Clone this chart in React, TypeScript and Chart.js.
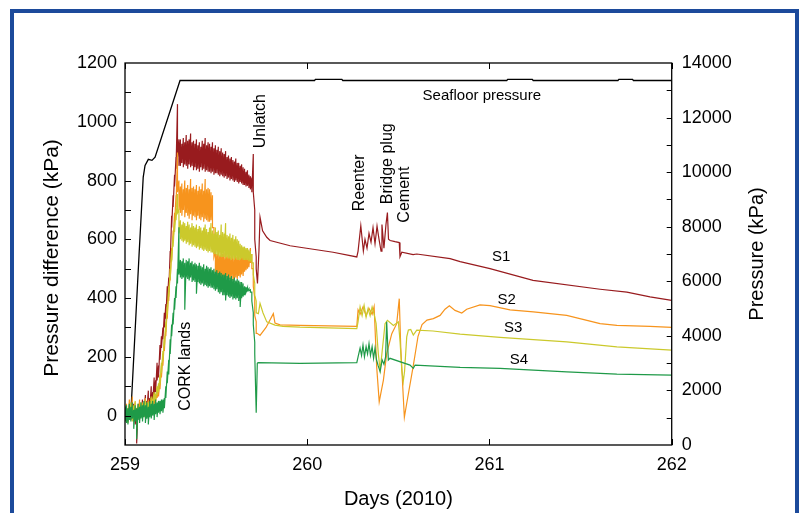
import React, { useEffect, useRef } from 'react';
import { Chart, registerables } from 'chart.js';

Chart.register(...registerables);

const FONT = '"Liberation Sans", Arial, Helvetica, sans-serif';

// X tick labels (days, 2010)
const dayTicks = [259, 260, 261, 262];

// Shared time grid for the landing period (days)
const earlyDays = [
  259.000, 259.008, 259.016, 259.024, 259.032, 259.040, 259.048, 259.056, 259.064, 259.072,
  259.080, 259.088, 259.096, 259.104, 259.112, 259.120, 259.128, 259.136, 259.144, 259.152,
  259.160, 259.168, 259.176, 259.184, 259.192, 259.200, 259.208, 259.216, 259.224, 259.232,
  259.240, 259.248, 259.256, 259.264, 259.272, 259.280, 259.288, 259.296, 259.304, 259.312,
  259.320, 259.328, 259.336, 259.344, 259.352, 259.360, 259.368, 259.376, 259.384, 259.392,
  259.400, 259.408, 259.416, 259.424, 259.432, 259.440, 259.448, 259.456, 259.464, 259.472,
  259.480, 259.488, 259.496, 259.504, 259.512, 259.520, 259.528, 259.536, 259.544, 259.552,
  259.560, 259.568, 259.576, 259.584, 259.592, 259.600, 259.608, 259.616, 259.624, 259.632,
  259.640, 259.648, 259.656, 259.664, 259.672, 259.680, 259.688, 259.696, 259.704, 259.712,
  259.720,
];

// S1 noisy period: upper and lower extremes of the noise at each grid time (kPa)
const s1High = [
  25, 30, 20, 35, 30, 25, 40, 20, 15, 30,
  40, 30, 55, 40, 70, 50, 85, 60, 100, 80,
  130, 120, 180, 170, 240, 270, 300, 350, 380, 440,
  470, 560, 680, 750, 820, 880, 1060, 940, 940, 925,
  945, 930, 955, 935, 940, 960, 930, 935, 925, 940,
  920, 930, 915, 935, 925, 945, 920, 930, 925, 915,
  930, 910, 920, 905, 915, 900, 910, 895, 890, 900,
  880, 885, 875, 880, 870, 865, 875, 860, 860, 850,
  855, 845, 840, 830, 835, 820, 815, 810, 890, 700,
  540,
];
const s1Low = [
  -15, -10, -20, -5, -15, -10, -5, -30, -95, -10,
  0, 5, 10, 10, 20, 15, 30, 25, 45, 40,
  70, 80, 120, 130, 190, 230, 260, 300, 330, 380,
  420, 520, 640, 710, 780, 840, 880, 850, 850, 860,
  845, 855, 850, 840, 855, 845, 850, 835, 845, 835,
  840, 830, 845, 835, 840, 830, 835, 830, 830, 825,
  830, 820, 825, 825, 820, 815, 820, 815, 810, 815,
  805, 810, 800, 805, 800, 795, 800, 795, 790, 795,
  790, 785, 785, 780, 782, 775, 770, 760, 760, 600,
  500,
];
const s1LateDays = [
  259.727, 259.735, 259.741, 259.755, 259.778, 259.796, 259.906, 259.960, 260.142, 260.272,
  260.279, 260.294, 260.308, 260.317, 260.328, 260.339, 260.350, 260.361, 260.372, 260.383,
  260.394, 260.405, 260.410, 260.421, 260.432, 260.440, 260.446, 260.455, 260.482, 260.505,
  260.509, 260.519, 260.581, 260.601, 260.784, 260.839, 261.003, 261.239, 261.607, 261.754,
  261.881, 262.000,
];
const s1Late = [
  450, 560, 675, 629, 607, 596, 578, 573, 556, 540,
  560, 646, 560, 600, 570, 620, 590, 640, 585, 645,
  600, 560, 650, 570, 650, 691, 600, 596, 592, 589,
  541, 556, 548, 550, 534, 524, 500, 460, 430, 420,
  404, 392,
];

// S2
const s2High = [
  30, 40, 25, 55, 35, 65, 30, 45, 25, 40,
  55, 35, 45, 40, 60, 45, 55, 40, 60, 55,
  75, 70, 95, 90, 130, 170, 210, 260, 310, 370,
  430, 500, 570, 630, 690, 750, 895, 800, 780, 790,
  770, 800, 775, 785, 770, 805, 775, 780, 770, 785,
  765, 780, 770, 790, 765, 805, 770, 775, 770, 760,
  750, 640, 560, 550, 565, 545, 560, 550, 555, 540,
  550, 545, 555, 540, 545, 535, 550, 540, 545, 535,
  550, 545, 555, 550, 560, 555, 570, 550, 500, 400,
  320,
];
const s2Low = [
  -10, -5, -15, 5, -10, 0, -20, 0, -30, -10,
  5, -5, 0, -5, 10, 0, 10, 5, 25, 25,
  40, 45, 60, 65, 90, 130, 170, 220, 270, 330,
  390, 460, 530, 590, 650, 710, 760, 700, 690, 680,
  700, 675, 690, 680, 670, 685, 665, 680, 675, 665,
  680, 670, 665, 675, 660, 670, 665, 660, 660, 665,
  640, 540, 480, 470, 475, 465, 470, 460, 470, 465,
  470, 460, 465, 470, 460, 465, 470, 465, 475, 470,
  480, 475, 490, 495, 500, 505, 520, 500, 440, 340,
  280,
];
const s2LateDays = [
  259.725, 259.741, 259.774, 259.814, 259.823, 259.851, 259.960, 260.272, 260.279, 260.290,
  260.306, 260.323, 260.339, 260.356, 260.367, 260.381, 260.395, 260.402, 260.418, 260.436,
  260.464, 260.491, 260.505, 260.513, 260.527, 260.533, 260.546, 260.582, 260.608, 260.630,
  260.657, 260.692, 260.729, 260.756, 260.780, 260.811, 260.848, 260.875, 260.948, 261.003,
  261.113, 261.241, 261.424, 261.607, 261.699, 261.881, 262.000,
];
const s2Late = [
  280, 273, 300, 347, 315, 309, 307, 304, 360, 345,
  370, 340, 365, 345, 371, 166, 47, 70, 121, 211,
  279, 313, 398, 234, 64, -6, 42, 170, 270, 310,
  325, 330, 341, 362, 374, 358, 349, 362, 377, 374,
  360, 353, 341, 313, 307, 304, 300,
];

// S3
const s3High = [
  25, 35, 20, 40, 45, 25, 35, 50, 20, 35,
  30, 45, 30, 40, 55, 35, 45, 40, 65, 55,
  80, 75, 100, 110, 140, 180, 220, 270, 320, 380,
  440, 500, 560, 610, 660, 700, 754, 700, 665, 650,
  660, 655, 645, 660, 650, 640, 655, 645, 640, 650,
  635, 645, 640, 630, 640, 650, 635, 625, 640, 655,
  630, 620, 640, 625, 630, 615, 650, 625, 620, 655,
  615, 610, 620, 605, 615, 600, 610, 600, 595, 585,
  580, 575, 575, 570, 570, 565, 560, 550, 520, 450,
  390,
];
const s3Low = [
  -20, -10, -25, -5, 0, -20, -10, 5, -45, -5,
  -10, 10, -5, 0, 15, 0, 10, 5, 35, 30,
  50, 50, 70, 80, 105, 145, 185, 235, 285, 345,
  405, 465, 525, 575, 625, 665, 690, 620, 600, 595,
  590, 595, 585, 590, 580, 585, 575, 580, 575, 570,
  575, 565, 570, 565, 560, 565, 560, 555, 560, 555,
  555, 550, 550, 545, 545, 540, 540, 540, 540, 535,
  540, 535, 535, 530, 535, 530, 535, 530, 530, 530,
  535, 530, 530, 530, 530, 525, 525, 520, 480, 410,
  350,
];
const s3LateDays = [
  259.732, 259.741, 259.757, 259.778, 259.823, 259.867, 259.960, 260.272, 260.279, 260.290,
  260.301, 260.312, 260.323, 260.334, 260.345, 260.356, 260.367, 260.378, 260.390, 260.400,
  260.408, 260.427, 260.440, 260.473, 260.500, 260.509, 260.519, 260.527, 260.534, 260.546,
  260.555, 260.568, 260.582, 260.601, 260.690, 260.839, 261.058, 261.424, 261.699, 262.000,
];
const s3Late = [
  347, 382, 350, 319, 308, 304, 301, 296, 320, 370,
  340, 375, 335, 365, 340, 370, 345, 313, 211, 155,
  200, 313, 324, 307, 319, 256, 155, 116, 150, 268,
  291, 293, 274, 291, 288, 277, 266, 251, 234, 223,
];

// S4
const s4High = [
  30, 35, 25, 40, 30, 45, 20, 35, 25, 40,
  30, 45, 35, 50, 35, 45, 30, 50, 40, 50,
  40, 55, 45, 50, 50, 55, 55, 60, 100, 150,
  190, 260, 310, 350, 400, 440, 500, 641, 530, 525,
  535, 520, 530, 525, 535, 520, 525, 515, 520, 515,
  510, 520, 510, 505, 515, 500, 510, 505, 500, 505,
  495, 500, 490, 495, 485, 490, 485, 480, 480, 485,
  475, 480, 470, 475, 465, 470, 460, 465, 460, 455,
  455, 450, 440, 438, 435, 432, 428, 420, 350, 250,
  10,
];
const s4Low = [
  -20, -25, -30, -15, -20, -10, -45, -20, -80, -15,
  -25, -10, -20, -5, -25, -10, -30, -5, -10, 0,
  -15, 5, -5, 10, 5, 15, 10, 25, 60, 110,
  140, 210, 270, 310, 360, 400, 450, 480, 470, 465,
  470, 360, 470, 465, 460, 470, 455, 460, 455, 415,
  455, 450, 445, 450, 440, 445, 440, 435, 440, 435,
  435, 430, 425, 430, 420, 415, 420, 410, 410, 392,
  410, 405, 400, 405, 395, 400, 395, 400, 390, 370,
  400, 405, 410, 420, 425, 425, 420, 390, 310, 210,
  10,
];
const s4LateDays = [
  259.726, 259.730, 259.960, 260.272, 260.279, 260.290, 260.298, 260.306, 260.314, 260.323,
  260.331, 260.339, 260.347, 260.356, 260.364, 260.372, 260.380, 260.389, 260.400, 260.411,
  260.421, 260.430, 260.436, 260.445, 260.454, 260.564, 260.582, 260.592, 260.839, 261.058,
  261.424, 261.699, 262.000,
];
const s4Late = [
  178, 180, 178, 180, 200, 230, 205, 240, 200, 235,
  210, 245, 205, 235, 195, 230, 190, 170, 150, 190,
  175, 200, 319, 189, 195, 172, 161, 172, 164, 161,
  149, 141, 138,
];

// Seafloor pressure (right axis, kPa)
const seafloorDays = [
  259.000, 259.030, 259.033, 259.077, 259.100, 259.110, 259.128, 259.148, 259.165, 259.302,
  260.040, 260.045, 260.190, 260.195, 261.095, 261.100, 261.235, 261.240, 261.705, 261.710,
  261.785, 261.790, 262.000,
];
const seafloorVals = [
  1036, 1036, 1281, 6954, 9820, 10248, 10468, 10431, 10552, 13359,
  13359, 13400, 13400, 13359, 13359, 13400, 13400, 13359, 13359, 13400,
  13400, 13359, 13359,
];

// Event / series labels
const eventLabels = ['CORK lands', 'Unlatch', 'Reenter', 'Bridge plug', 'Cement'];
const eventDays = [259.335, 259.746, 260.290, 260.441, 260.537];
const eventVals = [168, 1002, 792, 857, 752];

const seriesLabels = ['S1', 'S2', 'S3', 'S4'];
const seriesLabelDays = [261.064, 261.095, 261.130, 261.162];
const seriesLabelVals = [541, 395, 300, 191];

const seafloorLabel = 'Seafloor pressure';
const seafloorLabelDay = 260.958;
const seafloorLabelVal = 1087;

const xTitle = 'Days (2010)';
const yTitle = 'Pressure difference (kPa)';
const y2Title = 'Pressure (kPa)';

const COLORS = {
  s1: '#981b1e',
  s2: '#f7941d',
  s3: '#cbc92c',
  s4: '#1f9a48',
  sea: '#000000',
  frame: '#1c4a9b',
};

const pts = (d: number[], v: number[]) => d.map((x, i) => ({ x, y: v[i] }));
// noise envelope: at each time, a stroke from the upper to the lower extreme
const band = (d: number[], hi: number[], lo: number[]) =>
  d.flatMap((x, i) => [{ x, y: hi[i] }, { x, y: lo[i] }]);

const decorPlugin = {
  id: 'decor',
  beforeDraw(chart: any) {
    const ctx = chart.ctx;
    ctx.save();
    ctx.fillStyle = '#ffffff';
    ctx.fillRect(0, 0, chart.width, chart.height);
    ctx.strokeStyle = COLORS.frame;
    ctx.lineWidth = 4;
    ctx.strokeRect(12, 11, 785, 600);
    ctx.restore();
  },
  afterDatasetsDraw(chart: any) {
    const ctx = chart.ctx;
    const { left, right, top, bottom } = chart.chartArea;
    const xs = chart.scales.x;
    const ys = chart.scales.y;
    const y2 = chart.scales.y2;
    ctx.save();
    ctx.strokeStyle = '#000';
    ctx.lineWidth = 1.3;
    ctx.strokeRect(left, top, right - left, bottom - top);
    ctx.lineWidth = 1;
    ctx.beginPath();
    dayTicks.forEach((d) => {
      const px = Math.round(xs.getPixelForValue(d)) + 0.5;
      ctx.moveTo(px, bottom);
      ctx.lineTo(px, bottom - 6);
      ctx.moveTo(px, top);
      ctx.lineTo(px, top + 6);
    });
    for (let v = 0; v < 1200; v += 100) {
      const py = Math.round(ys.getPixelForValue(v)) + 0.5;
      ctx.moveTo(left, py);
      ctx.lineTo(left + 6, py);
    }
    for (let v = 1000; v < 14000; v += 1000) {
      const py = Math.round(y2.getPixelForValue(v)) + 0.5;
      ctx.moveTo(right, py);
      ctx.lineTo(right - 5, py);
    }
    ctx.stroke();

    ctx.fillStyle = '#000';
    ctx.textAlign = 'center';
    ctx.textBaseline = 'middle';
    const rot = (t: string, x: number, y: number) => {
      ctx.save();
      ctx.translate(x, y);
      ctx.rotate(-Math.PI / 2);
      ctx.fillText(t, 0, 0);
      ctx.restore();
    };
    ctx.font = `16px ${FONT}`;
    eventLabels.forEach((t, i) => {
      rot(t, xs.getPixelForValue(eventDays[i]), ys.getPixelForValue(eventVals[i]));
    });
    ctx.font = `15px ${FONT}`;
    seriesLabels.forEach((t, i) => {
      ctx.fillText(t, xs.getPixelForValue(seriesLabelDays[i]), ys.getPixelForValue(seriesLabelVals[i]));
    });
    ctx.fillText(seafloorLabel, xs.getPixelForValue(seafloorLabelDay), ys.getPixelForValue(seafloorLabelVal));

    // axis titles
    const midY = (top + bottom) / 2;
    ctx.font = `21px ${FONT}`;
    rot(yTitle, 52, midY + 4);
    ctx.font = `20px ${FONT}`;
    rot(y2Title, 757, midY);
    ctx.fillText(xTitle, (left + right) / 2, 499);
    ctx.restore();
  },
};

export default function App() {
  const ref = useRef<HTMLCanvasElement>(null);
  useEffect(() => {
    const canvas = ref.current;
    if (!canvas) return;
    const tickFont = { family: FONT, size: 18 };
    const line = (label: string, data: any[], color: string, axis: string, order: number, width = 1.2) => ({
      label,
      data,
      borderColor: color,
      backgroundColor: color,
      borderWidth: width,
      yAxisID: axis,
      order,
      pointRadius: 0,
      fill: false,
      tension: 0,
    });
    const chart = new Chart(canvas, {
      type: 'line',
      data: {
        datasets: [
          line('S4', [...band(earlyDays, s4High, s4Low), ...pts(s4LateDays, s4Late)], COLORS.s4, 'y', 0),
          line('S3', [...band(earlyDays, s3High, s3Low), ...pts(s3LateDays, s3Late)], COLORS.s3, 'y', 1),
          line('S2', [...band(earlyDays, s2High, s2Low), ...pts(s2LateDays, s2Late)], COLORS.s2, 'y', 2),
          line('S1', [...band(earlyDays, s1High, s1Low), ...pts(s1LateDays, s1Late)], COLORS.s1, 'y', 3),
          line('Seafloor pressure', pts(seafloorDays, seafloorVals), COLORS.sea, 'y2', 4, 1.3),
        ],
      },
      options: {
        responsive: false,
        animation: false,
        devicePixelRatio: 1,
        layout: { padding: { top: 63, left: 0, right: 0, bottom: 0 } },
        plugins: { legend: { display: false }, tooltip: { enabled: false } },
        scales: {
          x: {
            type: 'linear',
            min: 259,
            max: 262,
            grid: { display: false, drawTicks: false },
            border: { display: false },
            ticks: { stepSize: 1, padding: 9, color: '#000', font: tickFont, callback: (v: any) => String(v) },
            afterFit: (s: any) => { s.height = 68; },
          },
          y: {
            type: 'linear',
            position: 'left',
            min: -100,
            max: 1200,
            grid: { display: false, drawTicks: false },
            border: { display: false },
            ticks: { stepSize: 200, includeBounds: false, padding: 8, color: '#000', font: tickFont, callback: (v: any) => String(v) },
            afterFit: (s: any) => { s.width = 125; },
          },
          y2: {
            type: 'linear',
            position: 'right',
            min: 0,
            max: 14000,
            grid: { display: false, drawTicks: false },
            border: { display: false },
            ticks: { stepSize: 2000, padding: 10, color: '#000', font: tickFont, callback: (v: any) => String(v) },
            afterFit: (s: any) => { s.width = 129.3; },
          },
        },
      } as any,
      plugins: [decorPlugin],
    });
    return () => chart.destroy();
  }, []);
  return (
    <div style={{ position: 'absolute', left: 0, top: 0, width: 801, height: 513 }}>
      <canvas ref={ref} width={801} height={513} style={{ display: 'block' }} />
    </div>
  );
}
